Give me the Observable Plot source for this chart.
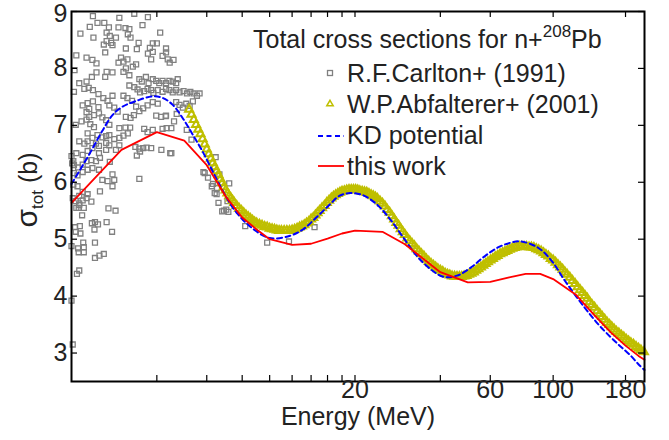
<!DOCTYPE html>
<html><head><meta charset="utf-8">
<script src="https://cdn.jsdelivr.net/npm/d3@7"></script>
<script src="https://cdn.jsdelivr.net/npm/@observablehq/plot@0.6"></script>
<style>body{margin:0;background:#fff;} svg{display:block}</style>
</head><body><div id="chart"></div>
<script>
// R.F.Carlton+ (1991): energy (MeV), sigma_tot (b)
const carltonE = [3.33,2.38,3.72,2.47,2.61,2.95,2.32,2.15,3.10,3.20,3.16,2.66,2.73,3.56,4.11,2.39,2.66,2.76,2.87,3.23,3.45,3.40,3.87,4.00,3.78,2.60,2.63,2.79,3.11,2.08,4.31,4.31,4.19,3.72,3.87,2.26,2.37,2.45,2.93,2.99,3.05,3.15,3.29,3.38,3.82,4.37,4.44,4.58,2.05,2.45,2.36,2.26,2.63,2.66,2.79,3.05,3.11,3.20,3.47,3.54,3.66,3.74,3.87,3.98,4.08,4.19,4.31,4.43,4.55,4.68,4.74,2.13,2.22,2.30,2.38,2.49,2.04,3.20,3.33,3.42,3.49,3.61,3.71,3.82,3.89,4.03,4.19,4.31,4.43,4.55,4.68,4.81,4.97,5.11,5.25,5.39,5.54,5.66,2.59,2.68,2.79,3.05,3.15,3.27,2.19,2.28,2.38,2.49,2.31,2.72,2.83,2.91,3.38,3.47,3.58,3.71,3.87,4.03,4.68,4.81,4.94,5.08,5.22,5.36,2.26,2.31,2.40,2.50,2.57,3.11,3.23,3.32,3.98,4.14,4.31,2.07,2.17,2.26,2.33,2.40,2.65,2.72,2.95,3.10,3.22,2.28,2.37,2.47,2.57,2.65,2.72,2.83,2.95,3.05,3.16,3.61,3.71,3.87,4.19,4.33,4.50,2.13,2.22,2.28,2.44,2.50,2.65,2.72,2.87,2.95,2.00,2.03,2.08,2.19,2.28,2.37,2.50,2.65,3.36,3.47,3.58,3.68,3.82,4.15,4.46,2.01,2.04,2.11,2.19,2.26,2.35,2.44,2.52,3.40,3.49,2.19,2.28,2.37,2.50,2.73,2.79,2.57,2.68,2.83,2.79,2.04,2.10,3.47,2.03,2.10,2.19,2.28,2.13,2.02,2.07,2.13,2.19,2.26,2.08,2.13,2.52,2.35,2.71,2.93,
  2.70,2.86,2.18,2.36,2.42,2.48,2.66,2.41,2.78,2.06,2.14,2.07,2.15,2.00,2.11,2.20,2.21,2.12,2.21,2.42,2.42,2.51,2.60,2.13,2.09,2.00,2.12,2.21,2.02,
  4.60,4.30,4.70,4.50,6.45,5.90,6.65,7.20,6.50,7.10,6.25,6.40,6.60,6.80,8.20,6.90,7.15,9.80,11.7,14.4,5.84,6.06,6.31,6.52,7.03,5.10,5.30];
const carltonS = [8.96,8.92,8.90,8.80,8.80,8.89,8.73,8.61,8.71,8.69,8.60,8.63,8.57,8.76,8.63,8.54,8.48,8.45,8.54,8.54,8.45,8.34,8.44,8.44,8.36,8.42,8.28,8.41,8.35,8.23,8.35,8.28,8.22,8.26,8.29,8.19,8.15,8.09,8.10,8.19,8.12,8.16,8.03,8.07,8.16,8.16,8.10,8.15,7.97,7.93,7.85,7.77,7.85,7.94,7.93,7.94,8.00,7.88,7.81,7.77,7.85,7.74,7.81,7.78,7.74,7.78,7.74,7.78,7.77,7.74,7.81,7.74,7.64,7.66,7.62,7.55,7.59,7.70,7.67,7.63,7.58,7.60,7.64,7.62,7.57,7.62,7.59,7.64,7.62,7.58,7.62,7.58,7.60,7.56,7.59,7.56,7.52,7.56,7.48,7.43,7.52,7.52,7.48,7.43,7.35,7.39,7.42,7.32,7.29,7.35,7.31,7.24,7.33,7.25,7.30,7.35,7.41,7.38,7.41,7.36,7.31,7.38,7.34,7.42,7.23,7.15,7.18,7.21,7.14,7.15,7.13,7.18,7.17,7.15,7.17,7.01,7.07,7.10,7.02,6.97,7.09,7.01,6.95,6.96,6.96,6.86,6.78,6.83,6.79,6.81,6.83,6.76,6.78,6.82,6.86,6.94,6.88,6.92,6.94,6.95,6.95,6.72,6.68,6.72,6.68,6.64,6.69,6.65,6.57,6.65,6.46,6.37,6.51,6.48,6.55,6.60,6.51,6.57,6.62,6.59,6.60,6.61,6.60,6.57,6.51,6.33,6.30,6.26,6.31,6.37,6.39,6.37,6.43,6.47,6.54,6.18,6.22,6.25,6.22,6.36,6.14,6.04,6.02,6.04,5.93,6.16,6.12,6.06,5.96,5.93,5.83,5.79,5.76,5.72,5.67,5.63,5.68,5.72,5.55,5.60,5.84,5.66,8.72,8.72,
  5.54,5.50,5.42,5.28,5.30,5.26,5.30,5.17,5.13,5.21,5.23,5.13,5.10,4.88,4.84,4.94,4.86,4.77,4.77,4.94,4.67,4.71,4.74,4.45,4.39,3.92,5.55,5.55,3.15,
  7.07,7.16,7.20,6.51,6.44,6.16,6.14,5.98,5.79,5.67,5.93,5.81,5.64,5.49,5.23,5.50,5.48,4.94,4.96,5.21,6.18,6.08,5.97,5.90,5.52,6.92,6.75];

// W.P.Abfalterer+ (2001)
const abfE = [5.2,5.3,5.4,5.5,5.6,5.7,5.8,5.9,6.0,6.1,6.2,6.3,6.4,6.5,6.6,6.7,6.8,6.9,7.0,7.1,7.2,7.3,7.4,7.5,7.65,7.8,7.95,8.1,8.25,8.4,8.55,8.7,8.85,9.0,9.2,9.4,9.6,9.8,10.0,10.2,10.4,10.6,10.8,11.0,11.25,11.5,11.75,12.0,12.25,12.5,12.75,13.0,13.25,13.5,13.75,14.0,14.25,14.5,14.75,15.0,15.3,15.6,15.9,16.2,16.5,16.8,17.1,17.4,17.7,18.0,18.35,18.7,19.05,19.4,19.75,20.1,20.45,20.8,21.2,21.6,22.0,22.4,22.8,23.2,23.6,24.0,24.5,25.0,25.5,26.0,26.5,27.0,27.5,28.0,28.5,29.0,29.5,30.0,30.6,31.2,31.8,32.4,33.0,33.6,34.3,35.0,35.7,36.4,37.1,37.8,38.5,39.2,40.0,40.8,41.6,42.4,43.2,44.0,44.9,45.8,46.7,47.6,48.5,49.5,50.5,51.5,52.5,53.5,54.5,55.6,56.7,57.8,58.9,60.1,61.3,62.5,63.7,65.0,66.3,67.6,68.9,70.3,71.7,73.1,74.5,76.0,77.5,79.0,80.6,82.2,83.8,85.5,87.2,88.9,90.7,92.5,94.3,96.2,98.1,100,102,104,106,108,110,112,114.5,117,119.5,122,124.5,127,129.5,132,134.5,137,140,143,146,149,152,155,158,161,164,167,170.5,174,177.5,181,184.5,188,192,196,200,204,209];
const abfS = [7.28,7.19,7.10,7.01,6.93,6.85,6.76,6.67,6.58,6.50,6.42,6.34,6.27,6.20,6.13,6.06,5.99,5.92,5.86,5.81,5.76,5.72,5.68,5.64,5.59,5.54,5.50,5.46,5.42,5.39,5.36,5.33,5.30,5.28,5.26,5.24,5.22,5.21,5.19,5.18,5.17,5.16,5.15,5.15,5.15,5.15,5.15,5.16,5.17,5.19,5.21,5.23,5.25,5.28,5.31,5.35,5.38,5.42,5.46,5.50,5.55,5.59,5.64,5.68,5.72,5.75,5.78,5.80,5.82,5.84,5.85,5.86,5.87,5.87,5.87,5.87,5.86,5.85,5.84,5.83,5.82,5.80,5.78,5.76,5.74,5.71,5.67,5.63,5.58,5.52,5.47,5.41,5.35,5.29,5.24,5.18,5.13,5.08,5.02,4.97,4.92,4.88,4.83,4.79,4.74,4.70,4.65,4.61,4.57,4.54,4.51,4.48,4.45,4.43,4.40,4.38,4.37,4.35,4.345,4.34,4.34,4.34,4.35,4.36,4.38,4.40,4.42,4.45,4.48,4.51,4.54,4.57,4.60,4.63,4.66,4.69,4.71,4.74,4.76,4.78,4.80,4.82,4.84,4.85,4.86,4.87,4.87,4.87,4.87,4.86,4.86,4.85,4.83,4.81,4.79,4.76,4.73,4.70,4.66,4.63,4.59,4.55,4.51,4.47,4.42,4.38,4.33,4.27,4.22,4.16,4.11,4.06,4.01,3.96,3.90,3.85,3.80,3.74,3.69,3.64,3.59,3.54,3.50,3.46,3.42,3.38,3.35,3.31,3.28,3.24,3.21,3.18,3.15,3.11,3.08,3.05,3.02,2.98];

// KD potential
const kdE = [2.0,2.31,2.56,2.79,3.03,3.39,3.86,4.2,4.55,4.93,5.35,5.8,6.3,6.85,7.5,8.5,10,11.8,13.1,14.6,16.3,17.6,19.2,21.4,23.9,26.6,29.6,33,36.8,41,45.8,51.2,57,63.6,71,77,88.5,98.8,110,128.6,147,169,188,201,210];
const kdS = [5.97,6.49,6.89,7.18,7.33,7.43,7.51,7.48,7.36,7.13,6.84,6.54,6.19,5.84,5.52,5.23,5.02,5.06,5.17,5.38,5.61,5.76,5.81,5.77,5.61,5.35,5.03,4.71,4.48,4.34,4.36,4.50,4.69,4.85,4.94,4.96,4.85,4.62,4.27,3.81,3.46,3.16,2.95,2.79,2.70];

// this work
const workE = [2,3,4,5,6,7,8,9,10,12,14,16,18,20,25,30,40,50,60,70,80,90,100,120,140,160,180,200,210];
const workS = [5.64,6.57,6.88,6.73,6.30,5.75,5.38,5.17,5.00,4.90,4.92,5.01,5.10,5.15,5.13,4.91,4.42,4.24,4.25,4.33,4.39,4.39,4.30,4.03,3.66,3.36,3.13,2.95,2.88];

const xTicks = [4,6,8,10,12,14,16,18,20,40,60,100,180];
const xTickLabelValues = [20,60,100,180];
const xTickLabelTexts = ["20","60","100","180"];
const yTicks = [3,4,5,6,7,8,9];
const legendTexts = ["R.F.Carlton+ (1991)","W.P.Abfalterer+ (2001)","KD potential","this work"];

const W = 669, H = 440, mL = 71, mR = 25, mT = 11, mB = 59;
const pw = W - mL - mR, ph = H - mT - mB;
const toRows = (E, S) => E.map((e, i) => ({E: e, s: S[i]}));
const carlton = toRows(carltonE, carltonS);
const abf = toRows(abfE, abfS);
const kd = toRows(kdE, kdS);
const work = toRows(workE, workS);
const xLabels = xTickLabelValues.map((v, i) => ({v, t: xTickLabelTexts[i]}));
const yMax = d3.max(yTicks);
const txt = "#222";

const plot = Plot.plot({
  width: W, height: H,
  marginLeft: mL, marginRight: mR, marginTop: mT, marginBottom: mB,
  x: {type: "log", domain: [2, 210], axis: null},
  y: {domain: [2.5, 9], axis: null},
  style: {fontFamily: "'Liberation Sans', Arial, sans-serif", fontSize: "25px", background: "white", color: txt, overflow: "visible"},
  marks: [
    Plot.dot(carlton, {x: "E", y: "s", symbol: "square", r: 2.8, stroke: "#808080", strokeWidth: 1.3, fill: "none"}),
    Plot.dot(abf, {x: "E", y: "s", symbol: "triangle", r: 3.0, stroke: "#BFBF00", strokeWidth: 2, fill: "none"}),
    Plot.line(kd, {x: "E", y: "s", stroke: "#0000FF", strokeWidth: 2, strokeDasharray: "5,3.5", curve: "catmull-rom"}),
    Plot.line(work, {x: "E", y: "s", stroke: "#FF0000", strokeWidth: 1.8}),
    Plot.frame({stroke: "black", strokeWidth: 2}),
    Plot.tickX(xTicks, {x: d => d, insetTop: ph - 6, stroke: "black", strokeWidth: 1.2}),
    Plot.tickX(xTicks, {x: d => d, insetBottom: ph - 6, stroke: "black", strokeWidth: 1.2}),
    Plot.tickY(yTicks, {y: d => d, insetRight: pw - 6, stroke: "black", strokeWidth: 1.2}),
    Plot.tickY(yTicks, {y: d => d, insetLeft: pw - 6, stroke: "black", strokeWidth: 1.2}),
    Plot.text(xLabels, {x: "v", text: "t", frameAnchor: "bottom", dy: 16, fill: txt}),
    Plot.text(yTicks.filter(d => d < yMax), {y: d => d, text: d => String(d), frameAnchor: "left", textAnchor: "end", dx: -4, fill: txt}),
    Plot.text(yTicks.filter(d => d === yMax), {y: d => d, text: d => String(d), frameAnchor: "left", textAnchor: "end", dx: -4, dy: 2, fill: txt}),
    Plot.text(["Energy (MeV)"], {frameAnchor: "bottom", dy: 43, fill: txt})
  ]
});
document.getElementById("chart").appendChild(plot);

const svg = d3.select(plot);
// y-axis label
const yl = svg.append("text").attr("transform", "translate(37,190) rotate(-90)")
  .attr("text-anchor", "middle").attr("font-size", 25).attr("fill", txt);
yl.append("tspan").attr("font-size", 30).text("σ");
yl.append("tspan").attr("font-size", 17).attr("dy", 6).text("tot");
yl.append("tspan").attr("dy", -6).text(" (b)");

// legend title
const t = svg.append("text").attr("x", 253).attr("y", 48).attr("font-size", 25)
  .attr("text-anchor", "start").attr("fill", txt);
t.append("tspan").text("Total cross sections for n+");
t.append("tspan").attr("font-size", 17).attr("dy", -11).text("208");
t.append("tspan").attr("dy", 11).text("Pb");

// legend entries
const lg = svg.append("g").attr("text-anchor", "start");
const baselines = [82, 113, 144, 175];
legendTexts.forEach((s, i) => {
  lg.append("text").attr("x", 347).attr("y", baselines[i]).attr("font-size", 25)
    .attr("text-anchor", "start").attr("fill", txt).text(s);
});
lg.append("rect").attr("x", 327.5).attr("y", 70.5).attr("width", 5).attr("height", 5)
  .attr("fill", "none").attr("stroke", "#808080").attr("stroke-width", 1.3);
lg.append("path").attr("d", d3.symbol(d3.symbolTriangle, 18)()).attr("transform", "translate(330,104)")
  .attr("fill", "none").attr("stroke", "#BFBF00").attr("stroke-width", 1.5);
lg.append("line").attr("x1", 318).attr("x2", 344).attr("y1", 136).attr("y2", 136)
  .attr("stroke", "#0000FF").attr("stroke-width", 2).attr("stroke-dasharray", "5,3.5");
lg.append("line").attr("x1", 318).attr("x2", 344).attr("y1", 166).attr("y2", 166)
  .attr("stroke", "#FF0000").attr("stroke-width", 1.8);
</script>
</body></html>
